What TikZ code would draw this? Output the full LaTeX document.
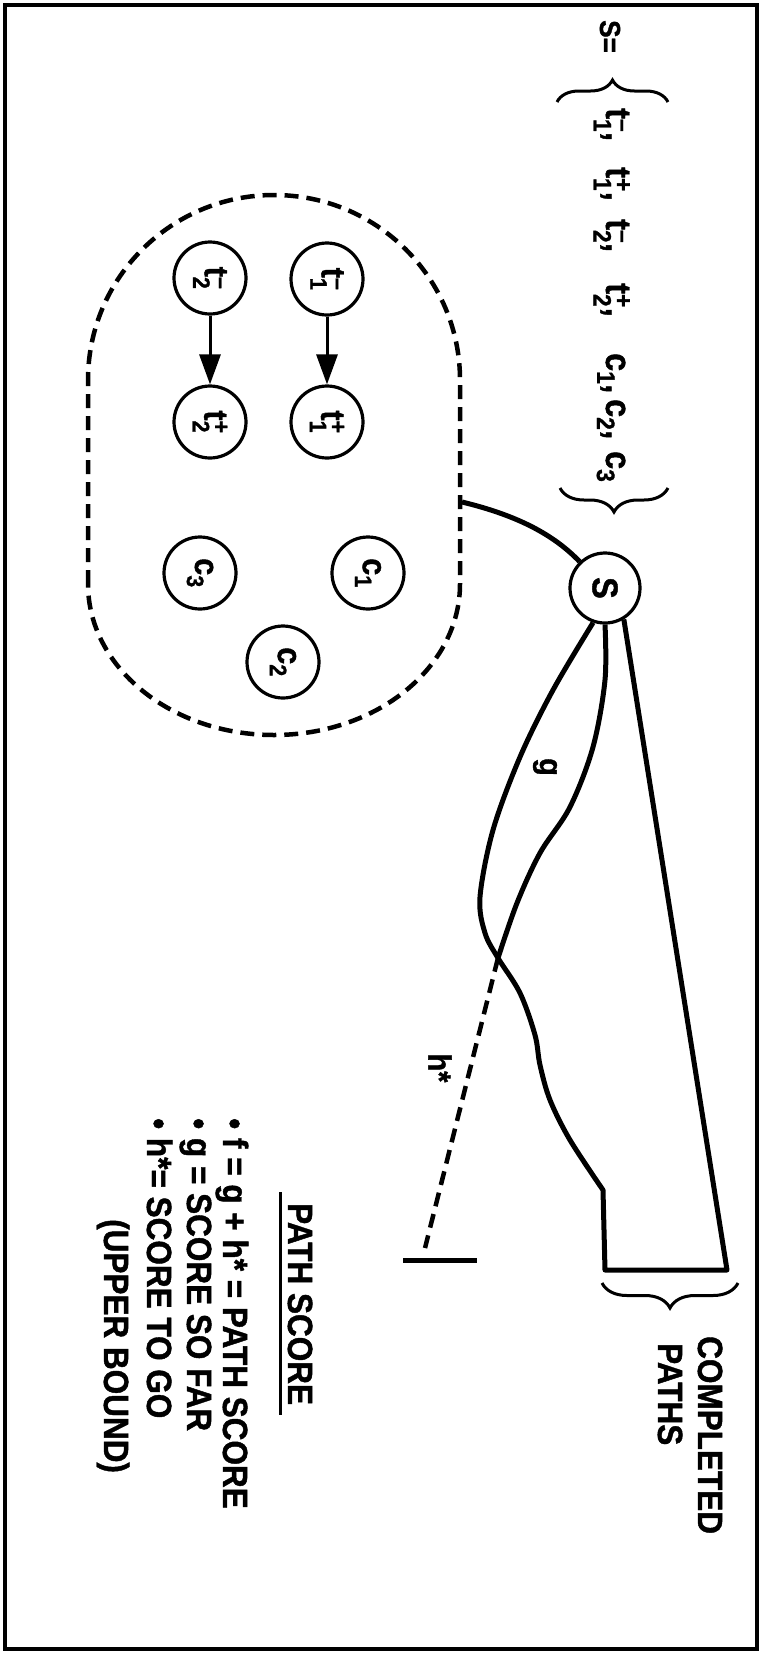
\documentclass[tikz,border=0pt]{standalone}
\usepackage{fontspec}
\setmainfont{Liberation Sans}[FakeStretch=0.9,BoldFeatures={FakeBold=1.2}]
\usepackage{amsmath}
\usepackage{graphicx}
\usetikzlibrary{arrows.meta,decorations.pathreplacing}
\newcommand\symtx[3]{#1$_{\text{#2}}^{\text{#3}}$}
\newcommand\symc[2]{#1$_{\text{#2}}$}
\begin{document}
\begin{tikzpicture}[x=1pt,y=-1pt,
  circnode/.style={circle,draw,line width=3.2pt,minimum size=72pt,inner sep=0pt,font=\bfseries\fontsize{34}{34}\selectfont},
  curve/.style={line width=5pt,line join=round},
  dashline/.style={line width=4.5pt,dash pattern=on 14pt off 8pt},
  bracestyle/.style={line width=3pt,decorate},
  txt/.style={rotate=-90,inner sep=0pt,anchor=base west,font=\bfseries\fontsize{35}{35}\selectfont},
  item/.style={rotate=-90,inner sep=0pt,anchor=base west,font=\bfseries\fontsize{36}{36}\selectfont},
  lbl/.style={rotate=-90,inner sep=0pt,font=\bfseries\fontsize{32}{32}\selectfont},
  tip/.style={-{Triangle[length=30pt,width=21pt]},line width=3pt}
]
\useasboundingbox (0,0) rectangle (765,1655);
\draw[line width=4pt] (5,5) rectangle (757,1649);

% set S
\node[txt,font=\bfseries\fontsize{29}{29}\selectfont] (Seq) at (600,20) {S=};
\coordinate (bo1) at (557,102); \coordinate (bo2) at (668,102);
\draw[bracestyle,decoration={brace,amplitude=22pt}] (bo1) -- (bo2);
\node[item] (i1) at (606,108) {\symtx{t}{1}{–},};
\node[item] (i2) at (606,167) {\symtx{t}{1}{+},};
\node[item] (i3) at (606,219) {\symtx{t}{2}{–},};
\node[item] (i4) at (606,283) {\symtx{t}{2}{+},};
\node[item] (i5) at (606,353) {\symc{c}{1},};
\node[item] (i6) at (606,399) {\symc{c}{2},};
\node[item] (i7) at (606,451) {\symc{c}{3}};
\coordinate (bc1) at (668,488); \coordinate (bc2) at (560,488);
\draw[bracestyle,decoration={brace,amplitude=24pt}] (bc1) -- (bc2);

% dashed set
\draw[dashline] (88,584) -- (88,380) .. controls (88,277.8) and (171.3,195) .. (274,195)
  .. controls (376.7,195) and (460,277.8) .. (460,380) -- (460,584)
  .. controls (460,667.4) and (376.7,735) .. (274,735)
  .. controls (171.3,735) and (88,667.4) .. (88,584);

\node[circnode] (t1m) at (327,279) {\rotatebox{-90}{\symtx{t}{1}{–}}};
\node[circnode] (t2m) at (210,278) {\rotatebox{-90}{\symtx{t}{2}{–}}};
\node[circnode] (t1p) at (327,422) {\rotatebox{-90}{\symtx{t}{1}{+}}};
\node[circnode] (t2p) at (210,422) {\rotatebox{-90}{\symtx{t}{2}{+}}};
\node[circnode] (c1) at (368,573) {\rotatebox{-90}{\symc{c}{1}}};
\node[circnode] (c3) at (200,573) {\rotatebox{-90}{\symc{c}{3}}};
\node[circnode] (c2) at (283,662) {\rotatebox{-90}{\symc{c}{2}}};
\draw[tip] (t1m) -- (t1p);
\draw[tip] (t2m) -- (t2p);

% start node
\node[circnode,minimum size=70pt,font=\bfseries\fontsize{36}{36}\selectfont] (S) at (605,588) {\rotatebox{-90}{S}};
\coordinate (dl) at (462,502);
\draw[curve] (dl) .. controls (520,516) and (555,536) .. (S);

% paths
\coordinate (L0) at (S.-109);
\coordinate (M0) at (S.-90);
\coordinate (X) at (498,958);
\coordinate (hend) at (425,1248);
\coordinate (b1) at (403,1260); \coordinate (b2) at (477,1260);
\draw[curve] plot[smooth,tension=0.55] coordinates {(L0) (553,690) (520,757) (493,830) (480,897) (485,933) (X) (520,993) (535,1035) (540,1065) (550,1100) (570,1140) (603,1190)}
  -- (605,1270) -- (727,1270) -- (S.-59);
\draw[curve] plot[smooth,tension=0.55] coordinates {(M0) (605,680) (593,747) (570,807) (540,853) (517,903) (X)};
\draw[dashline] (X) -- (hend);
\draw[line width=5pt] (b1) -- (b2);
\node[lbl] (g) at (545,767) {g};
\node[lbl] (hs) at (440,1068) {h*};

% completed paths
\coordinate (cp1) at (738,1283); \coordinate (cp2) at (602,1283);
\draw[bracestyle,decoration={brace,amplitude=25pt}] (cp1) -- (cp2);
\node[txt] (comp) at (698,1336) {COMPLETED};
\node[txt] (paths) at (658,1343) {PATHS};

% legend
\node[txt] (hd) at (288,1203) {PATH SCORE};
\draw[line width=3pt] ([xshift=-8pt,yshift=11pt]hd.base west) -- ([xshift=-8pt,yshift=-10pt]hd.base east);
\node[txt] (lf) at (223,1118) {\textbullet\ f = g + h* = PATH SCORE};
\node[txt] (lg) at (187,1118) {\textbullet\ g = SCORE SO FAR};
\node[txt] (lh) at (147,1118) {\textbullet\ h*= SCORE TO GO};
\node[txt] (lu) at (104,1219) {(UPPER BOUND)};
\end{tikzpicture}
\end{document}
